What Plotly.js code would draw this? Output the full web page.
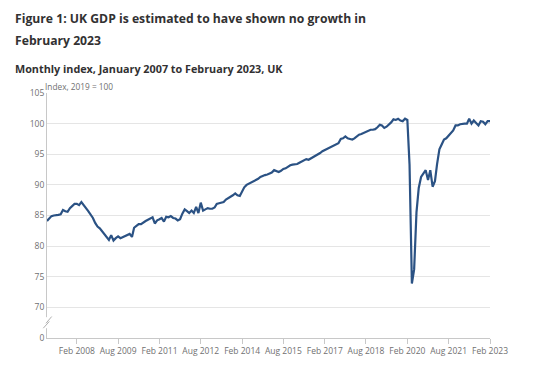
<!DOCTYPE html>
<html><head><meta charset="utf-8">
<script src="https://cdn.plot.ly/plotly-3.0.1.min.js"></script>
<style>html,body{margin:0;padding:0;background:#fff}#chart{width:550px;height:373px}</style>
</head><body><div id="chart"></div>
<script>
// Monthly GDP index (2019 = 100)
const gdp2007 = [84.1, 84.5, 84.9, 85.0, 85.0, 85.1, 85.2, 85.9, 85.7, 85.6, 86.2, 86.6];
const gdp2008 = [86.9, 86.9, 86.7, 87.2, 86.6, 86.2, 85.7, 85.2, 84.6, 83.8, 83.2, 82.9];
const gdp2009 = [82.4, 81.9, 81.5, 81.0, 81.8, 80.9, 81.3, 81.6, 81.3, 81.5, 81.7, 81.8];
const gdp2010 = [82.0, 81.5, 83.0, 83.3, 83.6, 83.6, 83.9, 84.1, 84.3, 84.5, 84.7, 83.7];
const gdp2011 = [84.2, 84.4, 84.6, 84.0, 84.8, 84.7, 84.9, 84.6, 84.5, 84.2, 84.4, 85.3];
const gdp2012 = [86.0, 85.7, 85.4, 85.8, 85.4, 86.4, 85.4, 87.1, 85.8, 86.0, 86.2, 86.1];
const gdp2013 = [86.1, 86.3, 86.9, 87.0, 87.1, 87.2, 87.6, 87.8, 88.1, 88.3, 88.6, 88.3];
const gdp2014 = [88.2, 88.9, 89.6, 90.0, 90.2, 90.3, 90.5, 90.7, 91.0, 91.3, 91.5, 91.6];
const gdp2015 = [91.7, 91.9, 92.0, 92.4, 92.3, 92.1, 92.3, 92.6, 92.7, 93.0, 93.2, 93.3];
const gdp2016 = [93.3, 93.4, 93.6, 93.8, 94.0, 94.2, 94.1, 94.3, 94.6, 94.8, 95.0, 95.2];
const gdp2017 = [95.5, 95.7, 95.9, 96.1, 96.3, 96.4, 96.6, 96.8, 97.5, 97.6, 97.9, 97.6];
const gdp2018 = [97.5, 97.4, 97.6, 97.9, 98.2, 98.3, 98.5, 98.7, 98.8, 99.0, 99.0, 99.1];
const gdp2019 = [99.4, 99.8, 99.7, 99.3, 99.5, 99.8, 100.2, 100.7, 100.6, 100.8, 100.5, 100.4];
const gdp2020 = [100.8, 100.6, 93.3, 73.9, 76.2, 85.5, 89.5, 91.3, 91.9, 92.4, 90.8, 92.4];
const gdp2021 = [89.7, 90.6, 93.4, 95.8, 96.6, 97.4, 97.6, 98.1, 98.5, 98.9, 99.7, 99.7];
const gdp2022 = [99.9, 100.0, 100.0, 100.0, 100.8, 100.0, 100.5, 100.1, 99.7, 100.4, 100.3, 99.9];
const gdp2023 = [100.4, 100.4];

const tickDates = ['2008-02-01','2009-08-01','2011-02-01','2012-08-01','2014-02-01','2015-08-01',
                   '2017-02-01','2018-08-01','2020-02-01','2021-08-01','2023-02-01'];
const tickLabels = ['Feb 2008','Aug 2009','Feb 2011','Aug 2012','Feb 2014','Aug 2015',
                    'Feb 2017','Aug 2018','Feb 2020','Aug 2021','Feb 2023'];
const yTickVals = [65, 70, 75, 80, 85, 90, 95, 100, 105];
const yTickText = ['0', '70', '75', '80', '85', '90', '95', '100', '105'];

const years = [gdp2007, gdp2008, gdp2009, gdp2010, gdp2011, gdp2012, gdp2013, gdp2014,
               gdp2015, gdp2016, gdp2017, gdp2018, gdp2019, gdp2020, gdp2021, gdp2022, gdp2023];
const x = [], y = [];
years.forEach((arr, k) => {
  arr.forEach((v, m) => {
    const mm = String(m + 1).padStart(2, '0');
    x.push((2007 + k) + '-' + mm + '-01');
    y.push(v);
  });
});

const FONT = '"Open Sans", "Noto Sans", sans-serif';
const axisCol = '#c8c8c8';

const trace = {
  x: x, y: y, type: 'scatter', mode: 'lines',
  line: {color: '#2b5284', width: 2.2},
  hoverinfo: 'x+y'
};

const layout = {
  width: 550, height: 373,
  margin: {l: 47, r: 60, t: 93, b: 35},
  paper_bgcolor: '#fff', plot_bgcolor: '#fff',
  showlegend: false,
  font: {family: FONT, color: '#707071'},
  xaxis: {
    type: 'date', range: ['2007-01-01', '2023-02-01'],
    tickmode: 'array', tickvals: tickDates, ticktext: tickLabels,
    ticks: 'outside', ticklen: 5, tickcolor: axisCol, tickwidth: 1,
    showline: true, linecolor: axisCol, linewidth: 1,
    showgrid: false, zeroline: false,
    tickfont: {size: 8.5, color: '#707071', family: FONT}
  },
  yaxis: {
    range: [65, 105], tickmode: 'array', tickvals: yTickVals, ticktext: yTickText,
    ticks: '', showline: true, linecolor: axisCol, linewidth: 1,
    showgrid: true, gridcolor: '#e5e5e5', gridwidth: 1, zeroline: false,
    tickfont: {size: 8.5, color: '#707071', family: FONT}
  },
  shapes: [
    {type: 'rect', xref: 'paper', yref: 'y', x0: -0.01, x1: 0.01, y0: 66.6, y1: 68.4,
     fillcolor: '#fff', line: {width: 0}, layer: 'above'},
    {type: 'line', xref: 'paper', yref: 'y', x0: -0.0023, y0: 67.4, x1: 0.0106, y1: 68.5,
     line: {color: '#b0b0b0', width: 1}},
    {type: 'line', xref: 'paper', yref: 'y', x0: -0.0084, y0: 66.6, x1: 0.0052, y1: 67.7,
     line: {color: '#b0b0b0', width: 1}}
  ],
  annotations: [
    {text: '<b>Figure 1: UK GDP is estimated to have shown no growth in</b>', showarrow: false,
     xanchor: 'left', yanchor: 'middle', font: {family: FONT, size: 12.2, color: '#323132'}},
    {text: '<b>February 2023</b>', showarrow: false, xanchor: 'left', yanchor: 'middle',
     font: {family: FONT, size: 12.2, color: '#323132'}},
    {text: '<b>Monthly index, January 2007 to February 2023, UK</b>', showarrow: false, xanchor: 'left', yanchor: 'middle',
     font: {family: FONT, size: 10.8, color: '#323132'}},
    {text: 'Index, 2019 = 100', showarrow: false, xanchor: 'left', yanchor: 'middle',
     font: {family: FONT, size: 8.3, color: '#707071'}}
  ]
};

// place title annotations in pixel positions converted to paper coords
const plotH = 373 - 93 - 35, plotW = 550 - 47 - 60;
function px(xp) { return (xp - 47) / plotW; }
function py(yp) { return (373 - 35 - yp) / plotH; }
const pos = [[13, 18], [13, 41], [13, 69], [43, 87]];
layout.annotations.forEach((a, i) => {
  a.xref = 'paper'; a.yref = 'paper';
  a.x = px(pos[i][0]); a.y = py(pos[i][1]);
});

Plotly.newPlot('chart', [trace], layout, {displayModeBar: false, staticPlot: true});
</script>
</body></html>
